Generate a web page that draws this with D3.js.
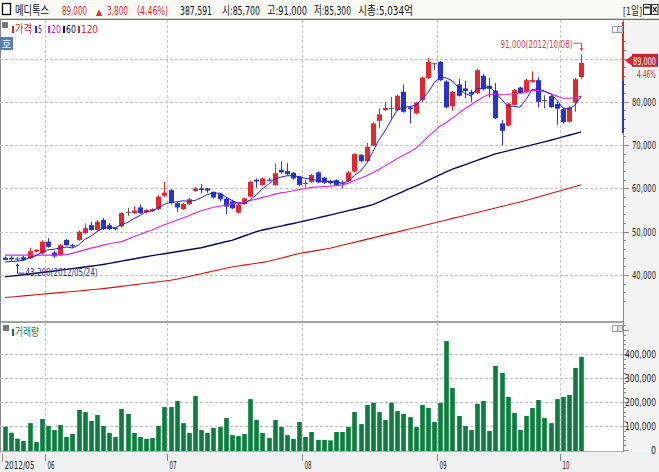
<!DOCTYPE html>
<html><head><meta charset="utf-8">
<script src="https://cdn.jsdelivr.net/npm/d3@7"></script>
<style>html,body{margin:0;padding:0;background:#f0f0f0;}svg{display:block}</style>
</head><body>
<svg id="chart" width="659" height="472"></svg>
<script>
// ---------------- DATA ----------------
const dates = ["2012/05/22","2012/05/23","2012/05/24","2012/05/25","2012/05/29","2012/05/30","2012/05/31",
"2012/06/01","2012/06/04","2012/06/05","2012/06/07","2012/06/08","2012/06/11","2012/06/12","2012/06/13","2012/06/14","2012/06/15","2012/06/18","2012/06/19","2012/06/20","2012/06/21","2012/06/22","2012/06/25","2012/06/26","2012/06/27","2012/06/28","2012/06/29",
"2012/07/02","2012/07/03","2012/07/04","2012/07/05","2012/07/06","2012/07/09","2012/07/10","2012/07/11","2012/07/12","2012/07/13","2012/07/16","2012/07/17","2012/07/18","2012/07/19","2012/07/20","2012/07/23","2012/07/24","2012/07/25","2012/07/26","2012/07/27","2012/07/30","2012/07/31",
"2012/08/01","2012/08/02","2012/08/03","2012/08/06","2012/08/07","2012/08/08","2012/08/09","2012/08/10","2012/08/13","2012/08/14","2012/08/16","2012/08/17","2012/08/20","2012/08/21","2012/08/22","2012/08/23","2012/08/24","2012/08/27","2012/08/28","2012/08/29","2012/08/30","2012/08/31",
"2012/09/03","2012/09/04","2012/09/05","2012/09/06","2012/09/07","2012/09/10","2012/09/11","2012/09/12","2012/09/13","2012/09/14","2012/09/17","2012/09/18","2012/09/19","2012/09/20","2012/09/21","2012/09/24","2012/09/25","2012/09/26","2012/09/27","2012/09/28",
"2012/10/02","2012/10/04","2012/10/05","2012/10/08"];

const open = [44000,44000,43800,44100,43900,45400,45000,47700,45200,44600,
48100,46900,48100,49700,51500,50400,52700,51500,50900,51200,
54600,54300,55600,54500,54800,55200,58300,59600,56600,55200,
56400,59400,60000,60000,59200,58800,57600,57000,54400,56400,
58100,62000,60800,62000,60800,64300,64000,63600,62700,61000,
61500,63700,62500,61700,61900,61300,61700,63900,67700,66300,
69900,75600,78100,78600,78100,82300,78700,77300,80400,85500,
88900,89200,84700,79000,84000,83100,82300,82000,86000,83700,
82600,75000,74500,79300,83300,82300,84600,85000,80400,81300,
79500,78300,75400,79800,85700];
const high = [44300,44400,44200,44400,46300,46000,48000,48500,45500,47200,
48300,47200,50300,51900,52300,52700,53200,52000,51000,54500,
55500,55900,56300,55200,55400,58400,61500,59800,56900,56600,
57800,60300,61000,60100,59300,59000,58000,57400,56500,57900,
61800,62300,62500,62400,65800,66200,65800,63800,62900,62000,
63300,63900,62700,62000,62100,61900,64000,68100,68000,70500,
75300,78500,80000,81100,81700,84000,79000,80000,85800,90200,
89000,89400,85000,82500,85300,84800,82800,87700,86500,85500,
84300,75800,79800,83000,83500,85300,87000,85700,81500,81500,
80000,78600,79000,85500,91000];
const low = [43400,43300,43200,43300,43700,45200,44800,46300,44000,44400,
46700,46300,47900,49500,50200,50200,50400,50300,50300,51000,
53600,54100,54100,54200,54600,55000,58000,56300,54500,55000,
56200,59200,59000,59000,57600,57000,54000,55200,54200,56200,
57900,60200,60600,61600,60600,63400,63100,62000,60500,60200,
61300,61200,61000,60900,60600,60000,61500,63700,66100,66100,
69700,73900,77900,76200,77900,77500,75000,77100,80000,85300,
87300,84800,78500,78000,81200,80800,80000,81800,82600,81000,
76000,70000,74300,79100,81800,82100,84400,78700,78500,78600,
74700,75000,75200,77700,85300];
const close = [43500,43600,43700,43500,45500,45800,47700,46500,44300,46900,
46900,46600,50000,50800,50400,52300,50600,50600,50600,54300,
54600,54900,54300,55000,55200,58100,59000,56600,55600,56400,
57500,60000,59600,59500,57900,57500,55800,55400,56300,57700,
61500,61600,62300,61800,63500,63700,63300,62300,60800,61300,
63100,61400,61300,61200,60800,61300,63700,67900,66300,69600,
75000,77100,78600,78600,81400,77700,78300,79800,85600,89200,
88900,85000,78700,82300,81400,82500,81700,87300,82900,83000,
76200,73300,79600,82700,82000,85000,85000,80000,80400,78800,
78400,75300,78700,85200,89000];
const volume = [97000,72000,47000,38000,112000,33000,129000,100000,83000,104000,
54000,67000,167000,158000,121000,146000,100000,71000,54000,171000,
150000,71000,54000,46000,50000,100000,179000,179000,204000,112000,
71000,225000,83000,71000,92000,96000,133000,62000,58000,67000,
212000,125000,71000,50000,125000,96000,62000,46000,117000,54000,
75000,42000,42000,40000,75000,75000,96000,158000,108000,188000,
197000,158000,125000,197000,162000,150000,137000,96000,188000,175000,
117000,196000,454000,258000,142000,100000,83000,192000,204000,79000,
350000,321000,221000,154000,83000,142000,175000,208000,133000,112000,
212000,221000,229000,342000,387591];

const ma5 = [43000,43100,43200,43400,43960,44420,45240,45800,45960,46240,
46460,46240,46940,48240,48940,50020,50820,50940,50900,51680,
52140,53000,53740,54620,54800,55500,56320,56780,56900,57140,
57020,57220,57820,58600,58900,58900,58060,57220,56580,56540,
57340,58500,59880,60980,62140,62580,62920,62920,62720,62280,
62160,61780,61580,61660,61560,61200,61660,62980,64000,65760,
68500,71180,73320,75780,78140,78680,78920,79160,80560,82120,
84360,85700,85480,84820,83260,81980,81320,83040,83160,83480,
82220,80540,79000,78960,78760,80520,82860,82940,82480,81840,
80520,78580,78320,79280,81320];
const ma20 = [44600,44600,44600,44600,44600,44600,44600,44600,44600,44650,
44700,45000,45400,45800,46200,46500,46900,47200,47450,47705,
48260,48825,49355,49930,50415,51030,51595,52100,52665,53140,
53670,54340,54820,55255,55630,55890,56150,56390,56675,56845,
57190,57525,57925,58265,58680,58960,59175,59460,59720,59965,
60245,60315,60400,60485,60630,60820,61215,61840,62340,62935,
63610,64385,65200,66040,66935,67635,68385,69260,70500,71895,
73185,74365,75235,76290,77320,78380,79280,80250,81080,81750,
81810,81620,81670,81875,81905,82270,82605,82615,82355,81835,
81310,80825,80825,80970,81350];
const ma60 = [39560,39730,39900,40070,40240,40410,40580,40750,40930,41120,
41300,41480,41670,41850,42030,42220,42440,42690,42950,43200,
43460,43710,43970,44220,44470,44700,44920,45150,45370,45600,
45820,46050,46300,46640,46980,47330,47670,48010,48490,49000,
49510,50020,50380,50680,50990,51290,51600,51900,52200,52530,
52860,53180,53520,53840,54180,54520,54860,55190,55530,55870,
56240,56850,57470,58080,58700,59320,59930,60550,61160,61830,
62490,63160,63830,64450,64950,65450,65960,66460,66960,67470,
67960,68310,68660,69010,69360,69700,70050,70400,70750,71120,
71510,71890,72270,72660,73040];
const ma120 = [34790,34920,35050,35180,35300,35430,35560,35690,35810,35940,
36070,36200,36320,36450,36580,36710,36860,37030,37210,37380,
37560,37730,37910,38080,38250,38430,38600,38780,39030,39350,
39660,39980,40290,40610,40920,41230,41550,41860,42090,42290,
42500,42710,42920,43160,43520,43880,44250,44610,44960,45220,
45450,45690,45930,46170,46510,46860,47200,47540,47880,48230,
48570,48920,49260,49610,49950,50300,50640,50980,51330,51680,
52020,52360,52720,53070,53410,53760,54100,54450,54790,55140,
55490,55830,56180,56520,56870,57210,57600,58000,58410,58820,
59230,59640,60040,60460,60860];

const priceTicks = [40000,50000,60000,70000,80000,90000];
const volumeTicks = [0,100000,200000,300000,400000];
const stockName = "메디톡스";
const headerItems = ["89,000","▲","3,800","(4.46%)","387,591","시:85,700","고:91,000","저:85,300","시총:5,034억"];
const changePct = "4.46%";
const legendNames = ["가격","5","20","60","120"];

// ---------------- LAYOUT ----------------
const svg = d3.select("#chart");
const F = "'Noto Sans CJK KR','Noto Sans',sans-serif";
const FN = "'Liberation Sans Narrow','DejaVu Sans Condensed','Noto Sans CJK KR',sans-serif";
const plotL = 0, plotR = 623, pTop = 20, pBot = 321, vTop = 323, vBot = 451;
const n = dates.length;
const x = d3.scaleLinear().domain([0, n-1]).range([5, 581.2]);
const yP = d3.scaleLinear().domain([40000, 90000]).range([275, 58.5]);
const yV = d3.scaleLinear().domain([0, 400000]).range([450, 354]);
const RED = "#e0282e", BLUE = "#2a32cc", DOJI = "#555566";

function txt(g, xx, yy, s, o={}) {
  const t = g.append("text").attr("x", xx).attr("y", yy).text(s)
    .attr("font-family", o.ff || F).attr("font-size", o.fs || 11)
    .attr("fill", o.fill || "#222");
  if (o.anchor) t.attr("text-anchor", o.anchor);
  if (o.len) t.attr("textLength", o.len).attr("lengthAdjust", "spacingAndGlyphs");
  if (o.fw) t.attr("font-weight", o.fw);
  return t;
}

// backgrounds
svg.append("rect").attr("width", 659).attr("height", 472).attr("fill", "#f0f0f0");
svg.append("rect").attr("x", 0).attr("y", 0).attr("width", 659).attr("height", 19).attr("fill", "#fbfbf6");
svg.append("line").attr("x1", 0).attr("x2", 659).attr("y1", 19.5).attr("y2", 19.5).attr("stroke", "#6a6a6a").attr("stroke-width", 1.5);
svg.append("rect").attr("x", plotL).attr("y", pTop).attr("width", plotR-plotL).attr("height", pBot-pTop).attr("fill", "#fff");
svg.append("rect").attr("x", plotL).attr("y", vTop).attr("width", plotR-plotL).attr("height", vBot-vTop).attr("fill", "#fff");
svg.append("line").attr("x1", 0).attr("x2", 659).attr("y1", 322).attr("y2", 322).attr("stroke", "#8a8a8a").attr("stroke-width", 1.5);
svg.append("line").attr("x1", 0.5).attr("x2", 0.5).attr("y1", 20).attr("y2", 452).attr("stroke", "#8a8a8a");
svg.append("line").attr("x1", 0).attr("x2", plotR).attr("y1", 451.5).attr("y2", 451.5).attr("stroke", "#b0b0b0");

// header
const hd = svg.append("g");
hd.append("rect").attr("x", 2.5).attr("y", 3.5).attr("width", 8).attr("height", 11).attr("fill", "#fff").attr("stroke", "#000").attr("stroke-width", 1.3);
txt(hd, 15, 15, stockName, {fs: 12, fill: "#111", len: 34});
const hx = [[62,25,RED],[96,6,RED],[107,21,RED],[137,31,RED],[180,32,"#111"],[222,38,"#111"],[267,40,"#111"],[314,37,"#111"],[358,55,"#111"]];
headerItems.forEach((s, k) => txt(hd, hx[k][0], 15, s, {ff: FN, fs: k === 1 ? 9 : 12, fill: hx[k][2], len: hx[k][1]}));
txt(hd, 623, 15, "[1일]", {ff: FN, fs: 11, fill: "#222", len: 19});
hd.append("rect").attr("x", 643.5).attr("y", 4.5).attr("width", 7).attr("height", 10).attr("fill", "#fff").attr("stroke", "#333");
hd.append("rect").attr("x", 644.5).attr("y", 6.5).attr("width", 5).attr("height", 2).attr("fill", "#333");
hd.append("rect").attr("x", 651.5).attr("y", 4.5).attr("width", 6.5).attr("height", 10).attr("fill", "#eee").attr("stroke", "#333");
hd.append("path").attr("d", "M653,7 L656.5,12 M656.5,7 L653,12").attr("stroke", "#111").attr("stroke-width", 1.1);

// gridlines
const grid = svg.append("g").attr("stroke", "#c4c4c4").attr("stroke-dasharray", "3,2").attr("stroke-width", 1);
priceTicks.forEach(v => grid.append("line").attr("x1", plotL).attr("x2", plotR).attr("y1", Math.round(yP(v))+0.5).attr("y2", Math.round(yP(v))+0.5));
volumeTicks.filter(v => v > 0).forEach(v => grid.append("line").attr("x1", plotL).attr("x2", plotR).attr("y1", Math.round(yV(v))+0.5).attr("y2", Math.round(yV(v))+0.5));
const monthStarts = [];
dates.forEach((d, i) => { if (i === 0 || d.slice(0,7) !== dates[i-1].slice(0,7)) monthStarts.push(i); });
const monthX = i => i === 0 ? x(0) - 3 : (x(i-1) + x(i)) / 2;
monthStarts.filter(i => i > 0).forEach(i => {
  const gx = Math.round(monthX(i)) + 0.5;
  grid.append("line").attr("x1", gx).attr("x2", gx).attr("y1", pTop).attr("y2", pBot);
  grid.append("line").attr("x1", gx).attr("x2", gx).attr("y1", vTop).attr("y2", vBot);
});

// candles
const cg = svg.append("g");
const colorOf = i => close[i] > open[i] ? RED : (close[i] < open[i] ? BLUE : DOJI);
d3.range(n).forEach(i => {
  const c = colorOf(i), cx = Math.round(x(i)) + 0.5;
  cg.append("line").attr("x1", cx).attr("x2", cx).attr("y1", yP(high[i])).attr("y2", yP(low[i])).attr("stroke", c).attr("stroke-width", 1);
  const top = yP(Math.max(open[i], close[i])), bot = yP(Math.min(open[i], close[i]));
  cg.append("rect").attr("x", cx - 2.5).attr("width", 5).attr("y", top).attr("height", Math.max(1, bot - top)).attr("fill", c);
});

// moving averages
const idx = d3.range(n);
const mkLine = arr => d3.line().x(i => x(i)).y(i => yP(arr[i]))(idx);
[[ma120, "#d81010", 1.1], [ma60, "#0a0a5a", 1.4], [ma20, "#e020e0", 1.1], [ma5, "#2020d8", 1]].forEach(([a, col, w]) => {
  svg.append("path").attr("d", mkLine(a)).attr("fill", "none").attr("stroke", col).attr("stroke-width", w);
});

// volume bars
const vg = svg.append("g");
d3.range(n).forEach(i => {
  const cx = Math.round(x(i)) + 0.5;
  vg.append("rect").attr("x", cx - 2.3).attr("width", 4.6).attr("y", yV(volume[i])).attr("height", yV(0) - yV(volume[i]) + 1).attr("fill", "#0b7d3c");
});

// right axis
const ax = svg.append("g");
ax.append("rect").attr("x", plotR + 0.5).attr("y", 20).attr("width", 659 - plotR).attr("height", 432).attr("fill", "#f3f3f3");
ax.append("line").attr("x1", plotR + 0.5).attr("x2", plotR + 0.5).attr("y1", 20).attr("y2", 452).attr("stroke", "#888");
d3.range(34000, 94001, 2000).forEach(v => {
  const yy = Math.round(yP(v)) + 0.5;
  if (yy < pTop || yy > pBot) return;
  ax.append("line").attr("x1", plotR).attr("x2", plotR + (v % 10000 === 0 ? 6 : 3)).attr("y1", yy).attr("y2", yy).attr("stroke", "#888");
});
d3.range(0, 520001, 20000).forEach(v => {
  const yy = Math.round(yV(v)) + 0.5;
  if (yy < vTop || yy > vBot) return;
  ax.append("line").attr("x1", plotR).attr("x2", plotR + (v % 100000 === 0 ? 6 : 3)).attr("y1", yy).attr("y2", yy).attr("stroke", "#888");
});
const fmt = d3.format(",");
priceTicks.forEach(v => txt(ax, 656, yP(v) + 4, fmt(v), {ff: FN, fs: 11, anchor: "end", len: 24, fill: "#222"}));
volumeTicks.forEach(v => txt(ax, 656, yV(v) + 4, fmt(v), {ff: FN, fs: 11, anchor: "end", len: v ? 31 : 5, fill: "#222"}));

// price range band on axis
const last = n - 1;
ax.append("line").attr("x1", plotR).attr("x2", plotR).attr("y1", pTop + 2).attr("y2", yP(85000)).attr("stroke", RED).attr("stroke-width", 2);
ax.append("line").attr("x1", plotR).attr("x2", plotR).attr("y1", yP(85000)).attr("y2", yP(72800)).attr("stroke", BLUE).attr("stroke-width", 2);

// current price tag (covers most of the 90,000 label as in the reference)
const cy = yP(close[last]) - 2;
ax.append("path").attr("d", `M${plotR + 2},${cy} L${plotR + 9},${cy - 5} L${plotR + 9},${cy + 5} Z`).attr("fill", RED);
ax.append("rect").attr("x", 632).attr("y", cy - 7).attr("width", 26).attr("height", 13).attr("fill", "#c8242a");
txt(ax, 656, cy + 4, fmt(close[last]), {ff: FN, fs: 11, anchor: "end", len: 23, fill: "#fff"});
txt(ax, 656, cy + 17, changePct, {ff: FN, fs: 11, anchor: "end", len: 19, fill: RED});

// panel icons
[[612, 26], [612, 325]].forEach(([ix, iy]) => {
  ax.append("rect").attr("x", ix + 0.5).attr("y", iy + 0.5).attr("width", 5).attr("height", 6).attr("fill", "#fff").attr("stroke", "#999");
  ax.append("rect").attr("x", ix + 5.5).attr("y", iy + 0.5).attr("width", 5).attr("height", 6).attr("fill", "#ddd").attr("stroke", "#999");
});

// legend
const lg = svg.append("g");
lg.append("rect").attr("x", 2).attr("y", 22).attr("width", 6).attr("height", 6).attr("fill", "#7a7a7a");
const legCols = ["#d02a30", "#2a32cc", "#e020e0", "#0a0a5a", "#d02a30"];
const legX = [12, 35, 48, 63, 78];
const legW = [17, 4, 10, 10, 17];
legendNames.forEach((s, k) => {
  lg.append("rect").attr("x", legX[k]).attr("y", 26).attr("width", 2).attr("height", 7).attr("fill", legCols[k]);
  txt(lg, legX[k] + 3, 33, s, {ff: k ? FN : F, fs: 11, fill: legCols[k], len: legW[k]});
});
lg.append("rect").attr("x", 0).attr("y", 37).attr("width", 13).attr("height", 13).attr("fill", "#5a7fae");
txt(lg, 6.5, 47.5, "호", {fs: 10, anchor: "middle", fill: "#e8f0ff"});
lg.append("rect").attr("x", 3).attr("y", 325).attr("width", 6).attr("height", 6).attr("fill", "#7a7a7a");
lg.append("rect").attr("x", 12).attr("y", 329).attr("width", 2).attr("height", 7).attr("fill", "#0b7d3c");
txt(lg, 15, 336, "거래량", {fs: 11, fill: "#1a7a3a", len: 24});

// x axis
const xa = svg.append("g");
monthStarts.forEach((i, k) => {
  const tx = Math.round(monthX(i)) + 0.5;
  xa.append("line").attr("x1", tx).attr("x2", tx).attr("y1", 454).attr("y2", 461).attr("stroke", "#888");
  const lab = k === 0 ? dates[i].slice(0, 7) : dates[i].slice(5, 7);
  txt(xa, tx + 2, 469, lab, {ff: FN, fs: 11, fill: "#222", len: k === 0 ? 30 : 7});
});

// max / min annotations
const iMax = d3.maxIndex(high), iMin = d3.minIndex(low);
const mx = Math.round(x(iMax)) + 0.5, my = yP(high[iMax]);
const an = svg.append("g");
txt(an, mx - 9, my - 6, fmt(high[iMax]) + "(" + dates[iMax] + ")", {ff: FN, fs: 11, anchor: "end", len: 72, fill: "#cc4848"});
an.append("path").attr("d", `M${mx - 8},${my - 11} H${mx} V${my - 4}`).attr("fill", "none").attr("stroke", "#cc4848");
an.append("path").attr("d", `M${mx - 2},${my - 6} L${mx},${my - 3} L${mx + 2},${my - 6} Z`).attr("fill", "#cc4848");
const nx = Math.round(x(iMin)) + 0.5, ny = yP(low[iMin]);
an.append("path").attr("d", `M${nx},${ny + 3} V${ny + 12} H${nx + 7}`).attr("fill", "none").attr("stroke", "#303090");
an.append("path").attr("d", `M${nx - 2},${ny + 5} L${nx},${ny + 2} L${nx + 2},${ny + 5} Z`).attr("fill", "#303090");
txt(an, nx + 8, ny + 15, fmt(low[iMin]) + "(" + dates[iMin] + ")", {ff: FN, fs: 11, len: 72, fill: "#303090"});
</script>
</body></html>
